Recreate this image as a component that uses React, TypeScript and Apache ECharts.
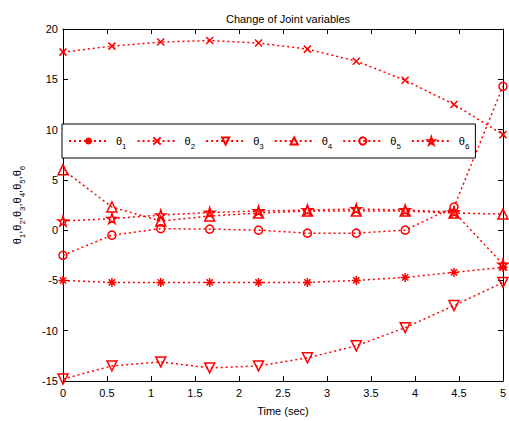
import React, { useEffect, useRef } from "react";
import * as echarts from "echarts";

const timeSec = [0, 0.556, 1.111, 1.667, 2.222, 2.778, 3.333, 3.889, 4.444, 5];
const theta1 = [-5.0, -5.2, -5.2, -5.2, -5.2, -5.2, -5.0, -4.7, -4.2, -3.7];
const theta2 = [17.7, 18.3, 18.7, 18.85, 18.6, 18.0, 16.8, 14.9, 12.5, 9.5];
const theta3 = [-14.8, -13.5, -13.1, -13.7, -13.5, -12.7, -11.5, -9.7, -7.5, -5.2];
const theta4 = [6.0, 2.3, 0.9, 1.4, 1.7, 1.9, 1.9, 1.9, 1.7, 1.6];
const theta5 = [-2.5, -0.5, 0.15, 0.1, 0.0, -0.3, -0.3, 0.0, 2.3, 14.3];
const theta6 = [0.9, 1.15, 1.5, 1.75, 1.9, 2.0, 2.1, 2.0, 1.8, -3.4];
const seriesNames = ["θ1", "θ2", "θ3", "θ4", "θ5", "θ6"];
const yTicks = { min: -15, max: 20, interval: 5 };
const xTicks = { min: 0, max: 5, interval: 0.5 };

const FONT = "Liberation Sans, Arial, sans-serif";
const RED = "#ff0000";

const asterisk = "path://M0,-5L0,5M-5,0L5,0M-3.5,-3.5L3.5,3.5M-3.5,3.5L3.5,-3.5";
const cross = "path://M-1,-1L1,1M-1,1L1,-1";
const triDown = "path://M-1,-0.75L1,-0.75L0,1Z";
const triUp = "path://M0,-1L1,0.75L-1,0.75Z";
const star =
  "path://M0,-1L0.2245,-0.309L0.951,-0.309L0.3633,0.118L0.5878,0.809L0,0.382L-0.5878,0.809L-0.3633,0.118L-0.951,-0.309L-0.2245,-0.309Z";

const symbols = [asterisk, cross, triDown, triUp, "circle", star];
const sizes = [9, 7, 10, 10, 8, 10];
const allData = [theta1, theta2, theta3, theta4, theta5, theta6];

export default function App() {
  const ref = useRef<HTMLDivElement>(null);
  useEffect(() => {
    const chart = echarts.init(ref.current!, null, { renderer: "svg" });
    const axisCommon = {
      axisLine: { show: true, onZero: false, lineStyle: { color: "#000", width: 1 } },
      axisTick: { show: true, inside: true, length: 5, lineStyle: { color: "#000" } },
      splitLine: { show: false },
    };
    const subRich = {
      s: { fontSize: 8, lineHeight: 8, verticalAlign: "bottom", fontFamily: FONT, color: "#000" },
    };
    chart.setOption({
      animation: false,
      backgroundColor: "#fff",
      title: {
        text: "Change of Joint variables",
        left: 283,
        textAlign: "center",
        top: 8,
        textStyle: { fontSize: 11, fontWeight: "normal", fontFamily: FONT, color: "#000" },
      },
      grid: { left: 61, right: 2, top: 29, bottom: 39, containLabel: false },
      xAxis: [
        {
          type: "value",
          position: "bottom",
          ...xTicks,
          ...axisCommon,
          axisLabel: { color: "#000", fontSize: 11, fontFamily: FONT, margin: 6 },
          name: "Time (sec)",
          nameLocation: "middle",
          nameGap: 24,
          nameTextStyle: { color: "#000", fontSize: 11, fontFamily: FONT },
        },
        {
          type: "value",
          position: "top",
          ...xTicks,
          ...axisCommon,
          axisLabel: { show: false },
        },
      ],
      yAxis: [
        {
          type: "value",
          position: "left",
          ...yTicks,
          ...axisCommon,
          axisLabel: { color: "#000", fontSize: 11, fontFamily: FONT, margin: 5 },
          name: "θ{s|1},θ{s|2},θ{s|3},θ{s|4},θ{s|5},θ{s|6}",
          nameLocation: "middle",
          nameGap: 37,
          nameTextStyle: {
            color: "#000",
            fontSize: 11,
            lineHeight: 18,
            fontFamily: FONT,
            rich: subRich,
          },
        },
        {
          type: "value",
          position: "right",
          ...yTicks,
          ...axisCommon,
          axisLabel: { show: false },
        },
      ],
      legend: {
        left: 62,
        top: 124,
        orient: "horizontal",
        data: seriesNames,
        itemWidth: 39,
        itemHeight: 9,
        itemGap: 10,
        padding: [8, 6, 8, 6],
        borderColor: "#000",
        borderWidth: 1,
        backgroundColor: "#fff",
        formatter: (name: string) => `θ{s|${name.slice(1)}}`,
        textStyle: {
          color: "#000",
          fontSize: 11,
          lineHeight: 18,
          fontFamily: FONT,
          padding: [0, 0, 0, 3],
          rich: subRich,
        },
      },
      series: allData.map((vals, k) => ({
        name: seriesNames[k],
        type: "line",
        xAxisIndex: 0,
        yAxisIndex: 0,
        data: timeSec.map((t, i) => [t, vals[i]]),
        symbol: symbols[k],
        symbolSize: sizes[k],
        showSymbol: true,
        color: RED,
        lineStyle: { color: RED, width: 1.5, type: [2, 3] },
        itemStyle: { color: "rgba(255,0,0,0)", borderColor: RED, borderWidth: 1.5 },
      })),
    });
    return () => chart.dispose();
  }, []);
  return (
    <div
      ref={ref}
      style={{ position: "fixed", left: 0, top: 0, width: 509, height: 421 }}
    />
  );
}
